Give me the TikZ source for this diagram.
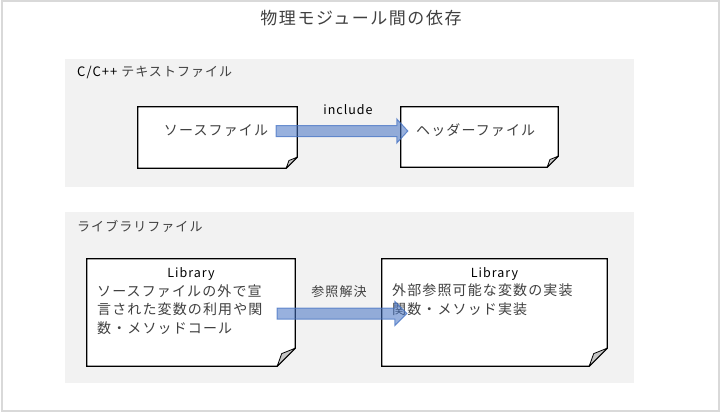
\documentclass[tikz,border=0pt]{standalone}
\usepackage{fontspec}
\setmainfont{Noto Sans CJK JP}
\newfontfamily\jpA[LetterSpace=8]{Noto Sans CJK JP}
\newfontfamily\jpT[LetterSpace=9]{Noto Sans CJK JP}
\usetikzlibrary{calc}
\definecolor{txtgray}{HTML}{404040}
\definecolor{panelgray}{HTML}{F2F2F2}
\definecolor{framegray}{HTML}{D9D9D9}
\definecolor{arrowblue}{RGB}{68,114,196}
\tikzset{
  panel/.style={fill=panelgray, draw=none, inner sep=0pt},
  docbox/.style={inner sep=0pt, draw=none},
  jptext/.style={inner sep=0pt, text=txtgray, font=\jpA\fontsize{14}{18.5}\selectfont},
  lattext/.style={inner sep=0pt, text=black, font=\jpA\fontsize{12.5}{14}\selectfont},
  paneltitle/.style={inner sep=0pt, text=black, anchor=west, font=\jpA\fontsize{13}{16}\selectfont},
  barrow/.style={fill=arrowblue, fill opacity=0.55, draw=arrowblue, draw opacity=0.75, line width=1pt, line join=miter}
}
\newcommand\docshape[2]{%
  \draw[fill=white, line width=1.3pt, line join=miter] (#1.north west) -- (#1.north east) -- ($(#1.south east)+(0,-#2)$) -- ($(#1.south east)+(-#2,0)$) -- (#1.south west) -- cycle;
  \draw[fill=black!22, line width=0.8pt, line join=round] ($(#1.south east)+(0,-#2)$) -- ($(#1.south east)+(-#2,0)$) -- ($(#1.south east)+(-0.75*#2,-0.7*#2)$) -- cycle;
}
\newcommand\blockarrow[5]{%
  \path[barrow] let \p1=(#1), \p2=(#2) in
    (\x1,{\y1+#3pt}) -- ({\x2-#5pt},{\y1+#3pt}) -- ({\x2-#5pt},{\y1+#4pt}) -- (\x2,\y1)
    -- ({\x2-#5pt},{\y1-#4pt}) -- ({\x2-#5pt},{\y1-#3pt}) -- (\x1,{\y1-#3pt}) -- cycle;
}
\begin{document}
\begin{tikzpicture}[x=1pt,y=-1pt]
\useasboundingbox (0,0) rectangle (720,412);
\draw[framegray, line width=2pt] (1.5,1.5) rectangle (718.5,410.5);
% title
\node[inner sep=0pt, text=txtgray, font=\jpT\fontsize{17}{20}\selectfont] (title) at (361,18) {物理モジュール間の依存};
% panels
\node[panel, minimum width=569pt, minimum height=128pt] (p1) at (349.5,123) {};
\node[panel, minimum width=569pt, minimum height=171pt] (p2) at (349.5,297.5) {};
\node[paneltitle] (p1t) at (77,73) {C/C++ \textcolor{txtgray}{テキストファイル}};
\node[paneltitle, text=txtgray] (p2t) at (77,226) {ライブラリファイル};
% top boxes
\node[docbox, minimum width=159pt, minimum height=61pt] (src) at (217.5,137.5) {};
\node[docbox, minimum width=157pt, minimum height=60pt] (hdr) at (479.5,137) {};
\docshape{src}{11}
\docshape{hdr}{11}
\node[jptext] (srct) at (216,131) {ソースファイル};
\node[jptext, anchor=west] (hdrt) at (416,130) {ヘッダーファイル};
% bottom boxes
\node[docbox, minimum width=208pt, minimum height=107pt] (lib1) at (191,312.5) {};
\node[docbox, minimum width=225pt, minimum height=107pt] (lib2) at (494.5,312.5) {};
\docshape{lib1}{18}
\docshape{lib2}{18}
\node[lattext] (l1h) at (191,274) {Library};
\node[lattext] (l2h) at (494.5,274) {Library};
\node[jptext, anchor=north west, align=left] (l1t) at (97,284.5) {ソースファイルの外で宣\\言された変数の利用や関\\数・メソッドコール};
\node[jptext, anchor=north west, align=left] (l2t) at (392,284) {外部参照可能な変数の実装\\関数・メソッド実装};
% labels
\node[lattext] (inc) at (348,110) {include};
\node[jptext, font=\jpA\fontsize{13}{16}\selectfont] (res) at (339,292) {参照解決};
% arrows
\coordinate (a1s) at ($(src.east)+(-21,-6.5)$);
\coordinate (a1e) at ($(hdr.west)+(7,-6)$);
\blockarrow{a1s}{a1e}{5.5}{12}{11}
\coordinate (a2s) at ($(lib1.east)+(-18,1)$);
\coordinate (a2e) at ($(lib2.west)+(25,1)$);
\blockarrow{a2s}{a2e}{5.5}{12}{12}
\end{tikzpicture}
\end{document}
